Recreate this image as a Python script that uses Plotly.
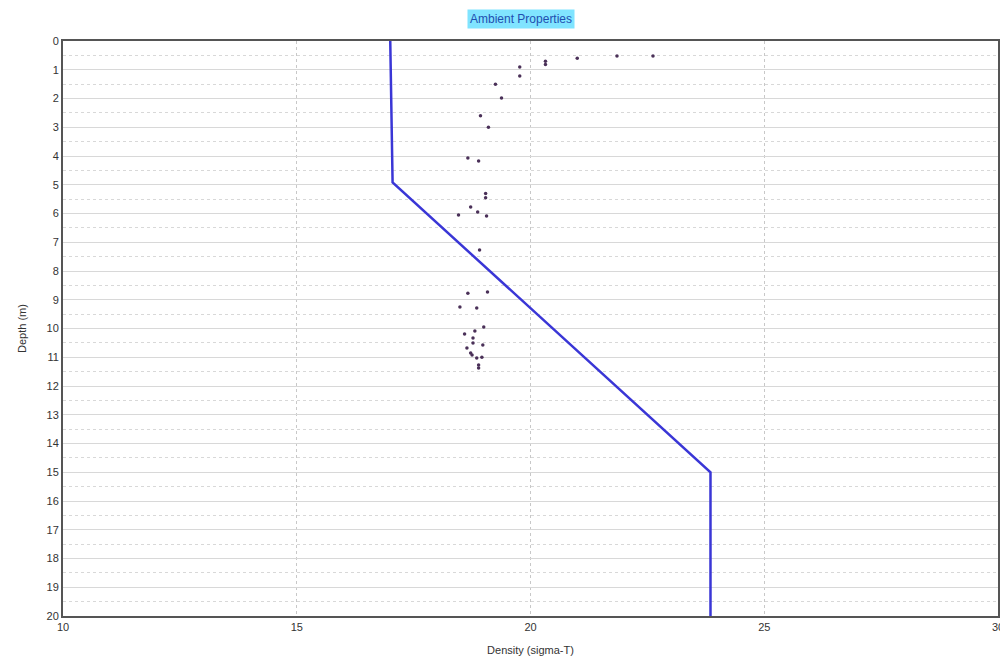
import plotly.graph_objects as go

# Ambient density profile (line)
profile_density = [17.0, 17.05, 17.05, 23.85, 23.85]
profile_depth = [0, 4.0, 4.92, 15.0, 20.0]

# Measured points (scatter)
obs_density = [20.32, 20.32, 21.0, 21.85, 22.62, 19.77, 19.77, 19.25, 19.38, 18.93,
               19.1, 18.66, 18.89, 19.04, 19.04, 18.72, 18.46, 18.87, 19.06, 18.91,
               18.66, 19.08, 18.49, 18.85, 18.59, 18.81, 19.0, 18.77, 18.77, 18.98,
               18.64, 18.72, 18.75, 18.85, 18.96, 18.89, 18.89]
obs_depth = [0.7, 0.82, 0.6, 0.52, 0.52, 0.9, 1.22, 1.5, 1.98, 2.6,
             3.0, 4.07, 4.17, 5.3, 5.45, 5.77, 6.05, 5.95, 6.09, 7.27,
             8.77, 8.73, 9.25, 9.29, 10.19, 10.09, 9.95, 10.33, 10.5, 10.57,
             10.68, 10.85, 10.92, 11.03, 11.0, 11.27, 11.37]

x_ticks = [10, 15, 20, 25, 30]
y_ticks = list(range(0, 21))

fig = go.Figure()
fig.add_trace(go.Scatter(x=obs_density, y=obs_depth, mode="markers",
                         marker=dict(size=3.5, color="#4a3058"), showlegend=False))
fig.add_trace(go.Scatter(x=profile_density, y=profile_depth, mode="lines",
                         line=dict(color="#3a36d6", width=2.5), showlegend=False))

axis_font = dict(family="Arial, Liberation Sans, sans-serif", size=11, color="#333333")
fig.update_layout(
    width=1000, height=656,
    margin=dict(l=55, r=10, t=33, b=48),
    paper_bgcolor="white", plot_bgcolor="white",
    xaxis=dict(range=[10, 30], tickvals=x_ticks, showgrid=True, automargin=False,
               gridcolor="#c8c8c8", griddash="dot", gridwidth=1,
               showline=True, linecolor="#555555", linewidth=2, mirror=True,
               zeroline=False, tickfont=axis_font, ticks="",
               title=dict(text="Density (sigma-T)", font=axis_font, standoff=14)),
    yaxis=dict(range=[20, 0], tickvals=y_ticks, showgrid=True, automargin=False,
               gridcolor="#d8d8d8", gridwidth=1,
               minor=dict(dtick=0.5, showgrid=True, gridcolor="#d8d8d8", griddash="dot"),
               showline=True, linecolor="#555555", linewidth=2, mirror=True,
               zeroline=False, tickfont=axis_font, ticks="",
               title=dict(text="Depth (m)", font=axis_font, standoff=18)),
    annotations=[dict(text="Ambient Properties", x=0.49, y=1.0, xref="paper", yref="paper",
                      xanchor="center", yanchor="bottom", yshift=12, showarrow=False,
                      font=dict(family="Arial, Liberation Sans, sans-serif", size=12, color="#1f4fb0"),
                      bgcolor="#80e4ff", borderpad=2)],
)

fig.write_html("out.html")
